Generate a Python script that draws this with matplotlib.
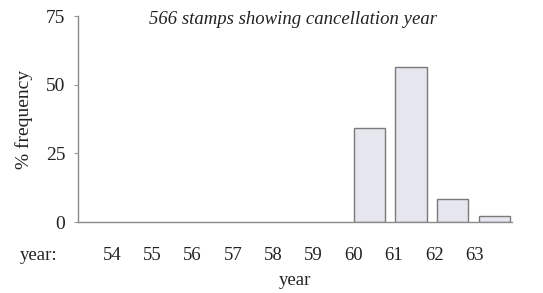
import matplotlib
matplotlib.use("Agg")
import matplotlib.pyplot as plt
import numpy as np

years = ["54", "55", "56", "57", "58", "59", "60", "61", "62", "63"]
freq = [0, 0, 0, 0, 0, 0, 34.1, 56.3, 8.3, 2.3]
yticks = [0, 25, 50, 75]

serif = ["Liberation Serif", "DejaVu Serif"]
plt.rcParams['font.family'] = serif

fig = plt.figure(figsize=(5.43, 2.93), dpi=100)
ax = fig.add_axes([0.1436, 0.2423, 0.943 - 0.1436, 0.945 - 0.2423])

x = np.arange(len(years))
edges = ["#7a7a7a" if v > 0 else "none" for v in freq]
ax.bar(x, freq, width=0.75, color="#e6e6ef", edgecolor=edges, linewidth=1.0)

ax.set_xlim(-0.97, 9.42)
ax.set_ylim(0, 75)
ax.set_yticks(yticks)
ax.set_yticklabels([str(v) for v in yticks], fontsize=14, color="#222222")
ax.set_xticks(x * 0.964 - 0.153)
ax.set_xticklabels(years, fontsize=13.5, color="#222222")
ax.tick_params(axis='x', length=0, pad=18)
ax.tick_params(axis='y', length=3, width=0.8, color="#999999", pad=6)

for s in ["top", "right"]:
    ax.spines[s].set_visible(False)
for s in ["left", "bottom"]:
    ax.spines[s].set_color("#8a8a8a")
    ax.spines[s].set_linewidth(1.0)

ax.set_ylabel("% frequency", fontsize=14, color="#222222", labelpad=9)
ax.set_xlabel("year", fontsize=13.5, color="#222222", labelpad=6)
fig.text(0.037, 0.127, "year:", fontsize=13.5, color="#222222", ha="left", va="center")
fig.text(0.54, 0.932, "566 stamps showing cancellation year", fontsize=13.5,
         style="italic", color="#222222", ha="center", va="center")

fig.savefig("out.png", dpi=100)
